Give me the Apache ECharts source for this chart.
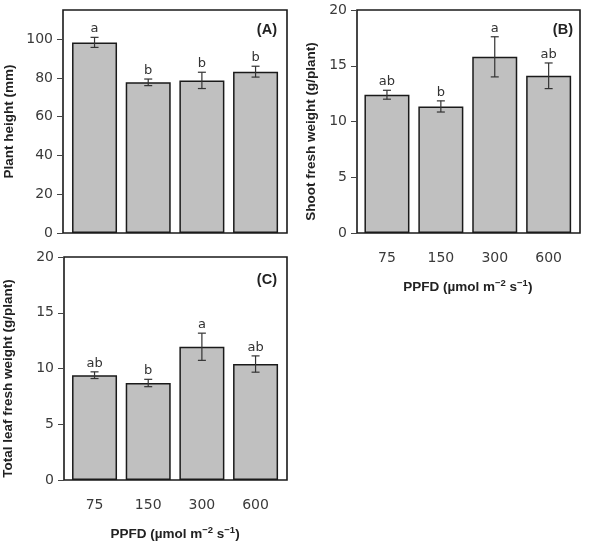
<!DOCTYPE html>
<html>
<head>
<meta charset="utf-8">
<title>PPFD</title>
<script src="https://cdn.jsdelivr.net/npm/echarts@6/dist/echarts.min.js"></script>
<style>
    html, body { margin: 0; padding: 0; background: #fff; }
    #chart { width: 595px; height: 549px; }
</style>
</head>
<body>
<div id="chart"></div>
<script>
// 横轴类别 (PPFD)
var ppfd = ['75', '150', '300', '600'];

// (A) 株高
var heightMean = [98.3, 77.7, 78.7, 83.2];
var heightSe = [2.6, 1.7, 4.2, 2.8];
var heightLetters = ['a', 'b', 'b', 'b'];
var heightTicks = [0, 20, 40, 60, 80, 100];

// (B) 地上部鲜重
var shootMean = [12.4, 11.35, 15.8, 14.1];
var shootSe = [0.4, 0.5, 1.8, 1.15];
var shootLetters = ['ab', 'b', 'a', 'ab'];

// (C) 叶片总鲜重
var leafMean = [9.4, 8.7, 11.95, 10.4];
var leafSe = [0.3, 0.33, 1.22, 0.73];
var leafLetters = ['ab', 'b', 'a', 'ab'];
var weightTicks = [0, 5, 10, 15, 20];

var myChart = echarts.init(document.getElementById('chart'), null, { renderer: 'canvas' });

var frameColor = '#1a1a1a';
var textColor = '#3a3a3a';
var tickFont = 'DejaVu Sans';
var titleFont = 'Liberation Sans';

var ppfdName = 'PPFD (\u00b5mol m{sup|\u22122} s{sup|\u22121})';
var ppfdRich = {
    sup: { fontSize: 9.5, fontWeight: 'bold', fontFamily: titleFont, color: '#222', verticalAlign: 'top', lineHeight: 12 }
};

/**
 * 误差线 + 显著性字母
 * @param letters 字母数组
 */
function errorBarItem(letters) {
    return function (params, api) {
        let x = api.value(0);
        let mean = api.value(1);
        let se = api.value(2);
        let top = api.coord([x, mean + se]);
        let bottom = api.coord([x, mean - se]);
        let cap = 4;
        let lineStyle = { stroke: '#333', lineWidth: 1.2 };
        return {
            type: 'group',
            children: [
                { type: 'line', shape: { x1: top[0], y1: top[1], x2: bottom[0], y2: bottom[1] }, style: lineStyle },
                { type: 'line', shape: { x1: top[0] - cap, y1: top[1], x2: top[0] + cap, y2: top[1] }, style: lineStyle },
                { type: 'line', shape: { x1: bottom[0] - cap, y1: bottom[1], x2: bottom[0] + cap, y2: bottom[1] }, style: lineStyle },
                {
                    type: 'text',
                    style: {
                        text: letters[params.dataIndex],
                        x: top[0], y: top[1] - 2,
                        align: 'center', verticalAlign: 'bottom',
                        fill: '#333', fontSize: 13, fontFamily: tickFont
                    }
                }
            ]
        };
    };
}

/**
 * 组装误差线数据
 */
function errorData(mean, se) {
    let rows = [];
    for (let i = 0; i < mean.length; i++) {
        rows.push([i, mean[i], se[i]]);
    }
    return rows;
}

// 外框坐标轴 (显示纵轴刻度)
function frameY(gridIndex, max, ticks, name, gap, shift) {
    return {
        gridIndex: gridIndex, type: 'value', min: 0, max: max,
        name: name, nameLocation: 'middle', nameGap: gap,
        nameTextStyle: { fontFamily: titleFont, fontWeight: 'bold', fontSize: 13.5, color: '#222', padding: [0, shift, 0, 0] },
        axisLine: { show: false },
        axisTick: { show: true, length: 6, lineStyle: { color: '#444', width: 1 }, customValues: ticks },
        axisLabel: { margin: 10, fontFamily: tickFont, fontSize: 14, color: textColor, customValues: ticks },
        splitLine: { show: false }
    };
}

function barY(gridIndex, max) {
    return { gridIndex: gridIndex, type: 'value', min: 0, max: max, show: false, splitLine: { show: false } };
}

function barX(gridIndex, showLabel) {
    return {
        gridIndex: gridIndex, type: 'category', data: ppfd,
        name: showLabel ? ppfdName : '', nameLocation: 'middle', nameGap: 45,
        nameTextStyle: { fontFamily: titleFont, fontWeight: 'bold', fontSize: 13.5, color: '#222', lineHeight: 18, rich: ppfdRich },
        axisLine: { show: false },
        axisTick: { show: false },
        axisLabel: { show: showLabel, margin: 18, fontFamily: tickFont, fontSize: 14, color: textColor }
    };
}

function frameX(gridIndex) {
    return { gridIndex: gridIndex, type: 'value', show: false, min: 0, max: 1 };
}

function barSeries(axisIndex, values) {
    return {
        type: 'bar', xAxisIndex: axisIndex, yAxisIndex: axisIndex,
        data: values, barWidth: 45,
        itemStyle: { color: '#c0c0c0', borderColor: frameColor, borderWidth: 1.5 }
    };
}

function errSeries(axisIndex, mean, se, letters) {
    return {
        type: 'custom', xAxisIndex: axisIndex, yAxisIndex: axisIndex,
        data: errorData(mean, se), encode: { x: 0, y: 1 },
        renderItem: errorBarItem(letters), z: 5
    };
}

var frameStyle = { show: true, borderColor: frameColor, borderWidth: 1.6, backgroundColor: 'transparent' };
var panelText = { fontFamily: titleFont, fontWeight: 'bold', fontSize: 14.5, color: '#222' };

var option = {
    animation: false,
    backgroundColor: '#fff',
    title: [
        { text: '(A)', right: 318, top: 22, padding: 0, textStyle: panelText },
        { text: '(B)', right: 22, top: 22, padding: 0, textStyle: panelText },
        { text: '(C)', right: 318, top: 272, padding: 0, textStyle: panelText }
    ],
    grid: [
        Object.assign({ left: 63, top: 10, width: 224, height: 223 }, frameStyle),
        { left: 67.7, top: 10, width: 214.7, height: 223 },
        Object.assign({ left: 357, top: 10, width: 223, height: 223 }, frameStyle),
        { left: 360, top: 10, width: 215.6, height: 223 },
        Object.assign({ left: 63, top: 257, width: 224, height: 223 }, frameStyle),
        { left: 67.7, top: 257, width: 214.7, height: 223 }
    ],
    xAxis: [
        frameX(0), barX(1, false),
        frameX(2), barX(3, true),
        frameX(4), barX(5, true)
    ],
    yAxis: [
        frameY(0, 115, heightTicks, 'Plant height (mm)', 47, 0), barY(1, 115),
        frameY(2, 20, weightTicks, 'Shoot fresh weight (g/plant)', 39, 20), barY(3, 20),
        frameY(4, 20, weightTicks, 'Total leaf fresh weight (g/plant)', 49, 20), barY(5, 20)
    ],
    series: [
        barSeries(1, heightMean), errSeries(1, heightMean, heightSe, heightLetters),
        barSeries(3, shootMean), errSeries(3, shootMean, shootSe, shootLetters),
        barSeries(5, leafMean), errSeries(5, leafMean, leafSe, leafLetters)
    ]
};

myChart.setOption(option);
</script>
</body>
</html>
